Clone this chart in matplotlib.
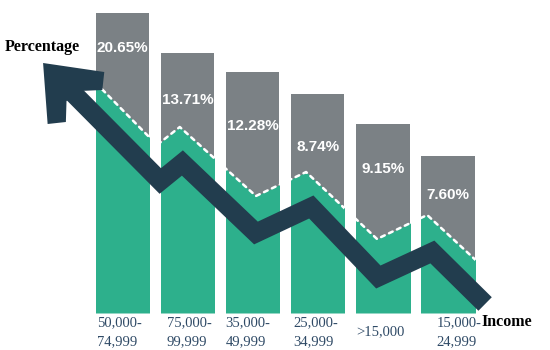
import matplotlib
matplotlib.use("Agg")
import matplotlib.pyplot as plt
from matplotlib.patches import Polygon

# categories (income brackets) and the percentage shown on each bar
categories = ["50,000-\n74,999", "75,000-\n99,999", "35,000-\n49,999",
              "25,000-\n34,999", ">15,000", "15,000-\n24,999"]
pct_labels = ["20.65%", "13.71%", "12.28%", "8.74%", "9.15%", "7.60%"]

# drawn heights of the grey bars (infographic units) and where the % text sits
bar_heights = [300, 260, 241, 219, 189, 157]
label_y = [265, 213, 187, 166, 144, 118]
cat_label_x = [-0.39, 0.68, 1.58, 2.62, 3.59, 4.82]

# green area profile (zigzag top with white dashed edge)
green_x = [-0.50, 0.53, 0.88, 2.05, 2.82, 3.91, 4.68, 5.49]
green_y = [236, 168, 186, 117, 141, 74, 98, 49]

# big trend arrow: shaft path and head outline
arrow_x = [-0.96, 0.58, 0.92, 2.05, 2.90, 3.93, 4.76, 5.57]
arrow_y = [233, 132, 150, 80, 106, 36, 61, 9]
head_x = [-1.22, -0.28, -0.31, -0.65, -0.86, -0.87, -1.15]
head_y = [250, 241, 223, 222, 212, 191, 189]

grey = "#7b8185"
green = "#2db08c"
dark = "#223d4e"
txt = "#2f4a66"

fig = plt.figure(figsize=(5.5, 3.5), dpi=100)
ax = fig.add_axes([0, 0, 1, 1])
ax.set_xlim(-122.5 / 65.1, (550 - 122.5) / 65.1)
ax.set_ylim(-37, 313)
ax.axis("off")

x = list(range(len(categories)))
bars = ax.bar(x, bar_heights, width=0.82, color=grey, edgecolor="none", zorder=1)

# green fill + dashed edge, only inside each bar
for b in bars:
    poly = ax.fill_between(green_x, 0, green_y, color=green, lw=0, zorder=2)
    poly.set_clip_path(b)
    ln, = ax.plot(green_x, green_y, color="white", lw=1.8,
                  linestyle=(0, (1.6, 1.9)), dash_capstyle="round", zorder=3)
    ln.set_clip_path(b)

for i in x:
    ax.text(i, label_y[i], pct_labels[i], color="white", fontsize=11,
            fontweight="bold", family="Liberation Sans", ha="center", va="center", zorder=4)
    ax.text(cat_label_x[i], -19, categories[i], color=txt, fontsize=10.5,
            family="Liberation Serif", ha="left", va="center", linespacing=1.55)

# arrow
ax.plot(arrow_x, arrow_y, color=dark, lw=13.7, solid_joinstyle="miter",
        solid_capstyle="butt", zorder=5)
ax.add_patch(Polygon(list(zip(head_x, head_y)), closed=True, color=dark, lw=0, zorder=6))

ax.text(-1.81, 266, "Percentage", fontsize=11.5, fontweight="bold",
        family="Liberation Serif", ha="left", va="center", color="black")
ax.text(5.52, -9, "Income", fontsize=11.5, fontweight="bold",
        family="Liberation Serif", ha="left", va="center", color="black")

plt.savefig("out.png", dpi=100)
